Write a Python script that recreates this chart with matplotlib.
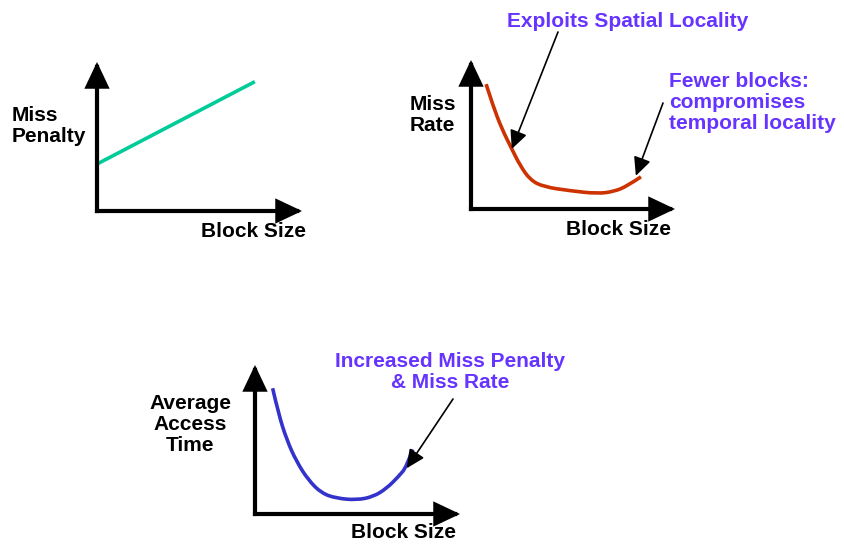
"""Block size trade-off: miss penalty, miss rate and average access time.

Three schematic curves (no ticks), each sketched on its own arrowed axes.
Saves out.png.
"""
import matplotlib.pyplot as plt
from matplotlib.patches import PathPatch
from matplotlib.path import Path

W, H = 844, 546

# Curves in panel units (0..10 on both axes).
PENALTY_X = [0.0, 7.7]
PENALTY_Y = [3.15, 8.68]

RATE_X = [0.74, 1.10, 1.51, 2.00, 2.41, 2.91, 3.56, 4.88, 6.19, 7.01, 7.67, 8.33]
RATE_Y = [8.38, 6.84, 5.39, 4.03, 2.91, 1.94, 1.49, 1.22, 1.03, 1.17, 1.55, 2.16]

AMAT_X = [0.86, 1.14, 1.55, 2.03, 2.60, 3.25, 3.99, 4.96, 5.77, 6.42, 6.99, 7.40, 7.69]
AMAT_Y = [8.44, 6.76, 4.97, 3.51, 2.28, 1.39, 1.05, 0.94, 1.16, 1.72, 2.50, 3.17, 4.34]

X_LABEL = "Block Size"
Y_LABELS = ["Miss\nPenalty", "Miss\nRate", "Average\nAccess\nTime"]
NOTES = ["Exploits Spatial Locality",
         "Fewer blocks:\ncompromises\ntemporal locality",
         "Increased Miss Penalty\n& Miss Rate"]

GREEN = "#00cc99"
RED = "#cc3300"
BLUE = "#3333cc"
PURPLE = "#6633ff"

plt.rcParams["font.family"] = ["Liberation Sans", "DejaVu Sans"]
plt.rcParams["font.weight"] = "bold"
FS = 15
LS = 1.12


def fx(x):
    return x / W


def fy(y):
    return 1 - y / H


def panel(fig, origin, tip_x, tip_y):
    """Axes whose lower-left is the origin and whose box ends at the arrow tips."""
    ox, oy = origin
    ax = fig.add_axes([fx(ox), fy(oy), (tip_x - ox) / W, (oy - tip_y) / H])
    ax.set_xlim(0, 10)
    ax.set_ylim(0, 10)
    ax.axis("off")
    head = dict(arrowstyle="-|>,head_length=0.95,head_width=0.45",
                mutation_scale=15, lw=3, color="black",
                shrinkA=0, shrinkB=0, capstyle="projecting", joinstyle="miter")
    ax.annotate("", xy=(0, 1), xytext=(0, 0), xycoords="axes fraction",
                textcoords="axes fraction", arrowprops=head, annotation_clip=False)
    ax.annotate("", xy=(1, 0), xytext=(0, 0), xycoords="axes fraction",
                textcoords="axes fraction", arrowprops=head, annotation_clip=False)
    return ax


def smooth(ax, xs, ys, color):
    """Quadratic B-spline through the read points, drawn as a bezier path."""
    pts = list(zip(xs, ys))
    verts = [pts[0]]
    codes = [Path.MOVETO]
    for i in range(1, len(pts) - 1):
        nxt = pts[i + 1] if i == len(pts) - 2 else (
            (pts[i][0] + pts[i + 1][0]) / 2, (pts[i][1] + pts[i + 1][1]) / 2)
        verts += [pts[i], nxt]
        codes += [Path.CURVE3, Path.CURVE3]
    ax.add_patch(PathPatch(Path(verts, codes), fill=False, edgecolor=color,
                           lw=2.6, capstyle="butt"))


def pointer(ax, xy, start):
    ax.annotate("", xy=xy, xycoords="data",
                xytext=(start[0], H - start[1]), textcoords="figure pixels",
                arrowprops=dict(arrowstyle="-|>,head_length=0.8,head_width=0.38",
                                mutation_scale=14, lw=1.2, color="black",
                                shrinkA=0, shrinkB=0),
                annotation_clip=False)


fig = plt.figure(figsize=(W / 100, H / 100), dpi=100)

# Miss penalty
ax1 = panel(fig, (97, 211), 302, 62)
ax1.plot(PENALTY_X, PENALTY_Y, color=GREEN, lw=2.6, solid_capstyle="butt")
fig.text(fx(12), fy(106), Y_LABELS[0], fontsize=FS, ha="left", va="top", linespacing=LS)
fig.text(fx(306), fy(237), X_LABEL, fontsize=FS, ha="right", va="baseline")

# Miss rate
ax2 = panel(fig, (471, 209), 675, 60)
smooth(ax2, RATE_X, RATE_Y, RED)
fig.text(fx(410), fy(95), Y_LABELS[1], fontsize=FS, ha="left", va="top", linespacing=LS)
fig.text(fx(671), fy(235), X_LABEL, fontsize=FS, ha="right", va="baseline")
fig.text(fx(628), fy(27), NOTES[0], fontsize=FS, color=PURPLE, ha="center", va="baseline")
fig.text(fx(669), fy(72), NOTES[1], fontsize=FS, color=PURPLE, ha="left", va="top",
         linespacing=LS)
pointer(ax2, (RATE_X[3], RATE_Y[3]), (558, 32))
pointer(ax2, (8.08, 2.23), (663, 103))

# Average access time
ax3 = panel(fig, (255, 514), 460, 365)
smooth(ax3, AMAT_X, AMAT_Y, BLUE)
fig.text(fx(190), fy(394), Y_LABELS[2], fontsize=FS, ha="center", va="top", linespacing=LS)
fig.text(fx(456), fy(538), X_LABEL, fontsize=FS, ha="right", va="baseline")
fig.text(fx(450), fy(352), NOTES[2], fontsize=FS, color=PURPLE, ha="center", va="top",
         linespacing=LS)
pointer(ax3, (AMAT_X[11], AMAT_Y[11] - 0.1), (453, 399))

fig.savefig("out.png", dpi=100)
